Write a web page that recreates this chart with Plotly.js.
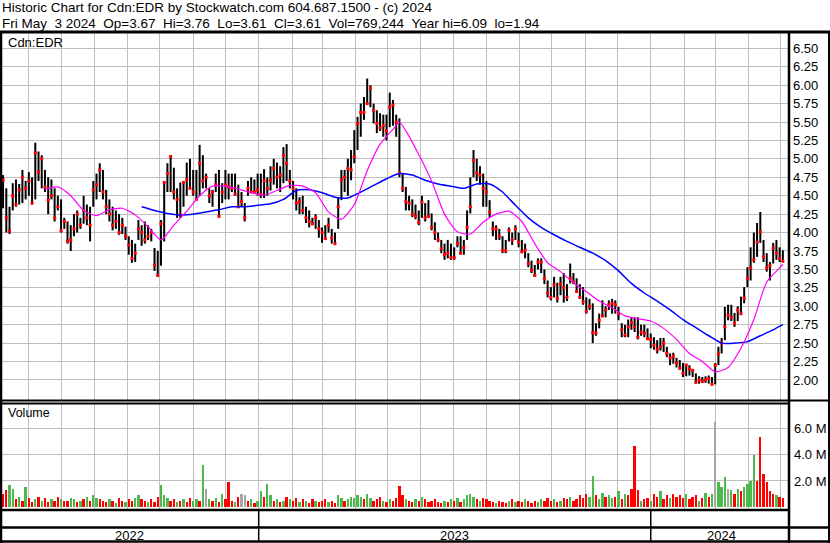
<!DOCTYPE html>
<html><head><meta charset="utf-8">
<script src="https://cdn.plot.ly/plotly-3.0.1.min.js"></script>
<style>html,body{margin:0;padding:0;background:#fff}#c{width:830px;height:543px}</style>
</head><body><div id="c"></div>
<script>
// ---- data ----
const startDate = '2022-05-08';   // first bar
const stepDays = 3;               // bar spacing in calendar days
const high = [
4.78,4.6,4.35,4.67,4.72,4.66,4.85,4.7,4.82,4.75,
5.22,5.1,5.05,4.85,4.75,4.72,4.6,4.5,4.45,4.2,
4.15,4.1,4.25,4.3,4.2,4.5,4.38,4.35,4.7,4.8,
4.94,4.85,4.58,4.45,4.35,4.3,4.25,4.2,4.08,3.95,
3.9,3.85,4.17,4.1,4.15,4.1,4.05,3.79,3.75,4.17,
4.7,4.94,5.05,4.88,4.6,4.68,4.7,4.95,5.0,4.85,
4.85,5.19,5.05,4.8,4.6,4.58,4.8,4.85,4.67,4.85,
4.8,4.8,4.8,4.65,4.55,4.4,4.7,4.75,4.72,4.8,
4.8,4.86,4.75,4.9,5.0,4.95,4.9,5.16,5.2,4.85,
4.7,4.6,4.48,4.5,4.35,4.3,4.2,4.25,4.17,4.07,
4.1,4.2,4.05,4.0,4.48,4.85,4.85,5.0,5.12,5.39,
5.57,5.75,5.84,6.09,6.0,5.75,5.66,5.62,5.6,5.6,
5.9,5.8,5.6,5.55,4.8,4.62,4.5,4.45,4.38,4.3,
4.5,4.4,4.44,4.26,4.14,4.0,3.9,3.85,3.9,3.85,
3.8,3.95,3.95,3.9,4.3,4.75,5.12,5.0,4.9,4.8,
4.7,4.44,4.15,4.1,4.05,3.95,3.9,4.07,4.0,4.1,
4.0,3.9,3.85,3.72,3.62,3.56,3.65,3.65,3.5,3.35,
3.26,3.4,3.32,3.4,3.45,3.3,3.58,3.45,3.38,3.3,
3.26,3.12,3.1,3.04,2.77,2.9,3.08,3.0,3.08,3.1,
3.08,2.99,2.77,2.75,2.82,2.85,2.85,2.85,2.75,2.75,
2.7,2.63,2.58,2.54,2.57,2.57,2.45,2.36,2.37,2.3,
2.27,2.23,2.22,2.2,2.15,2.09,2.05,2.04,2.05,2.06,
2.04,2.23,2.45,2.57,2.99,3.02,3.02,2.91,3.0,3.13,
3.26,3.53,3.8,4.0,4.13,4.28,3.9,3.72,3.6,3.86,
3.9,3.8,3.76];
const low = [
4.33,4.0,3.98,4.3,4.35,4.38,4.4,4.45,4.5,4.38,
4.45,4.7,4.6,4.55,4.25,4.45,4.15,4.3,4.0,4.05,
3.85,3.75,3.95,4.0,4.05,4.12,4.1,3.88,4.35,4.45,
4.55,4.45,4.25,4.15,4.03,4.05,3.97,3.98,3.9,3.7,
3.59,3.6,3.9,3.82,3.85,3.9,3.88,3.48,3.4,3.55,
3.88,4.55,4.55,4.45,4.2,4.2,4.35,4.5,4.62,4.5,
4.45,4.5,4.6,4.6,4.4,4.35,4.55,4.2,4.4,4.45,
4.45,4.55,4.5,4.35,4.35,4.15,4.5,4.55,4.55,4.5,
4.47,4.47,4.5,4.57,4.65,4.6,4.55,4.67,4.7,4.6,
4.45,4.3,4.25,4.25,4.13,4.07,4.1,4.05,3.93,3.86,
3.9,4.0,3.85,3.83,4.05,4.44,4.55,4.5,4.71,4.94,
5.12,5.3,5.53,5.75,5.7,5.48,5.35,5.38,5.3,5.25,
5.43,5.45,5.3,4.75,4.55,4.3,4.3,4.21,4.18,4.1,
4.2,4.15,4.2,4.03,3.9,3.87,3.72,3.63,3.65,3.63,
3.63,3.8,3.7,3.7,3.9,4.26,4.75,4.7,4.65,4.35,
4.35,4.21,3.95,3.9,3.9,3.72,3.72,3.88,3.83,3.9,
3.8,3.72,3.65,3.53,3.45,3.4,3.5,3.45,3.3,3.12,
3.08,3.12,3.05,3.15,3.05,3.07,3.31,3.3,3.2,3.1,
3.02,2.9,2.95,2.5,2.6,2.7,2.85,2.85,2.95,2.9,
2.9,2.81,2.58,2.58,2.58,2.68,2.65,2.55,2.6,2.58,
2.54,2.43,2.41,2.36,2.4,2.38,2.31,2.2,2.22,2.17,
2.14,2.04,2.05,2.06,2.04,1.95,1.95,1.96,1.96,1.95,
1.94,1.94,2.2,2.36,2.54,2.81,2.8,2.72,2.8,2.88,
3.04,3.26,3.35,3.59,3.67,3.86,3.6,3.47,3.35,3.58,
3.63,3.6,3.61];
const close = [
4.71,4.2,4.02,4.5,4.38,4.58,4.75,4.6,4.7,4.4,
5.08,4.82,5.0,4.62,4.44,4.5,4.2,4.35,4.03,4.15,
3.88,3.9,4.05,4.25,4.1,4.3,4.2,4.1,4.58,4.65,
4.85,4.55,4.35,4.25,4.1,4.15,4.0,4.1,3.95,3.83,
3.65,3.72,4.05,4.0,3.9,3.95,4.0,3.56,3.42,4.12,
4.68,4.8,5.03,4.55,4.45,4.24,4.68,4.72,4.6,4.55,
4.45,4.94,4.7,4.75,4.5,4.55,4.65,4.22,4.55,4.65,
4.62,4.6,4.52,4.35,4.42,4.2,4.6,4.55,4.55,4.58,
4.52,4.7,4.6,4.71,4.87,4.75,4.78,5.05,4.94,4.7,
4.6,4.4,4.42,4.3,4.2,4.15,4.12,4.2,4.05,4.0,
3.92,4.1,3.93,3.85,4.35,4.71,4.75,4.87,4.85,5.03,
5.48,5.63,5.63,5.75,5.96,5.66,5.48,5.42,5.45,5.38,
5.7,5.73,5.5,4.81,4.6,4.42,4.4,4.25,4.22,4.14,
4.41,4.2,4.22,4.07,4.0,3.9,3.78,3.7,3.72,3.66,
3.66,3.85,3.72,3.8,4.07,4.35,4.98,4.81,4.78,4.6,
4.55,4.28,4.05,4.05,3.95,3.76,3.75,4.03,3.9,4.05,
3.87,3.74,3.76,3.58,3.49,3.42,3.6,3.6,3.38,3.18,
3.12,3.29,3.11,3.3,3.25,3.12,3.38,3.33,3.2,3.12,
3.06,2.93,3.0,2.64,2.64,2.81,2.87,2.95,3.02,3.04,
3.02,2.9,2.68,2.61,2.72,2.78,2.72,2.58,2.65,2.63,
2.56,2.55,2.47,2.41,2.45,2.5,2.36,2.3,2.32,2.23,
2.16,2.09,2.2,2.15,2.13,1.97,2.0,1.98,2.0,2.02,
1.94,2.2,2.35,2.5,2.72,2.88,2.85,2.77,2.95,2.9,
3.11,3.38,3.52,3.63,3.87,4.01,3.67,3.52,3.55,3.79,
3.72,3.65,3.61];
// volume in millions of shares
const volume = [
1.0,1.3,1.7,1.4,0.6,0.8,0.5,1.5,0.7,0.4,
0.6,0.8,0.5,0.7,0.4,0.6,0.5,0.8,0.6,0.5,
0.5,0.7,0.6,0.4,0.5,0.6,0.8,0.5,0.9,0.7,
0.6,0.5,0.4,0.6,0.5,0.3,0.7,0.5,0.4,0.6,
0.5,0.7,0.9,0.6,0.5,0.4,0.6,0.4,0.8,1.7,
0.9,0.7,0.5,0.6,0.4,0.5,0.6,0.4,0.7,0.5,
0.6,0.5,3.2,1.4,0.6,0.5,0.7,0.4,1.0,0.6,
1.9,0.5,0.4,0.8,1.0,0.9,0.5,0.6,0.3,0.5,
1.2,0.8,1.8,0.9,0.5,0.6,0.4,0.5,0.8,0.6,
0.5,0.7,0.4,0.6,0.5,0.3,0.6,0.5,0.4,0.5,
0.6,0.4,0.5,0.3,0.9,0.7,0.5,0.6,0.8,0.7,
0.9,0.8,0.6,1.0,0.7,0.5,0.6,0.8,0.5,0.4,
0.6,0.5,0.7,1.6,0.9,0.6,0.5,0.4,0.6,0.5,
0.8,0.6,0.4,0.5,0.6,0.4,0.3,0.5,0.4,0.6,
0.5,0.7,0.4,0.6,0.9,1.0,0.8,0.6,0.5,0.7,
0.6,0.5,0.4,0.3,0.5,0.4,0.3,0.5,0.6,0.4,
0.5,0.4,0.6,0.5,0.3,0.5,0.4,0.6,0.5,0.7,
0.5,0.6,0.4,0.5,0.7,0.6,0.8,0.5,0.6,0.9,
0.7,1.0,0.8,2.4,0.9,0.6,1.1,0.8,0.9,0.7,
0.8,1.2,0.6,1.0,0.9,1.4,4.7,1.3,0.5,0.6,
0.7,0.5,1.0,0.8,1.2,0.6,0.9,0.7,1.0,0.8,
0.9,0.7,1.0,0.6,0.8,0.9,0.5,0.7,1.1,0.8,
1.0,6.5,1.9,1.5,2.3,1.4,1.3,1.0,1.4,1.2,
1.5,1.8,2.0,4.0,2.0,5.4,2.5,1.9,1.2,1.0,
0.9,0.8,0.7];
// g = up day, r = down day, n = unchanged
const volDir = ('rrggrgrgrr'+'grgrrgrrgr'+'rggrgrgrgg'+'rrrgrgrrgr'+'rggrrgrrrg'+
  'ggrrgrgrrg'+'grgngrgrgr'+'rrgrnnrgrg'+'grggrgrgrg'+'rrgrgrrgrr'+
  'rgrrggrggg'+'ggrggrrrgr'+'grrrrgrrgr'+'grrrrrrgrg'+'rgrggggrgr'+
  'rrrgrrrgrg'+'rrgrrrggrr'+'rgrgrrgrrr'+'rrggrggrgg'+'rgrgrrrrgr'+
  'rgrrgrrgrr'+'rrgrrrgrgr'+'gngggngrgr'+'ggggrrrrrr'+'grr').split('');
// moving averages: bar index -> value
const maShortIdx = [13,17,21,25,29,33,37,41,45,49,53,57,61,65,69,73,77,81,85,89,93,97,101,105,109,113,117,121,123,125,129,133,137,141,145,149,153,157,161,165,169,173,177,181,185,189,193,197,201,205,209,213,217,221,225,229,233,237,241,242];
const maShortVal = [4.59,4.62,4.5,4.3,4.23,4.31,4.33,4.24,4.08,3.9,4.1,4.29,4.5,4.63,4.63,4.59,4.54,4.51,4.57,4.64,4.63,4.54,4.28,4.18,4.38,4.84,5.2,5.4,5.5,5.38,5.06,4.7,4.25,4.01,3.98,4.14,4.25,4.29,4.15,3.85,3.59,3.47,3.32,3.2,3.07,2.98,2.87,2.83,2.8,2.7,2.55,2.36,2.25,2.11,2.17,2.43,2.82,3.33,3.52,3.57];
const maLongIdx = [43,47,51,55,59,63,67,71,75,79,83,87,91,95,99,103,107,111,115,119,123,127,131,135,139,143,147,151,155,159,163,167,171,175,179,183,187,191,195,199,203,207,211,215,219,223,227,231,235,239,242];
const maLongVal = [4.35,4.3,4.26,4.24,4.25,4.28,4.31,4.35,4.35,4.37,4.39,4.45,4.57,4.58,4.54,4.48,4.47,4.55,4.64,4.73,4.8,4.78,4.71,4.66,4.63,4.6,4.66,4.66,4.55,4.37,4.2,4.07,3.97,3.88,3.8,3.72,3.62,3.48,3.31,3.18,3.07,2.95,2.82,2.71,2.6,2.5,2.5,2.52,2.6,2.68,2.75];
const priceTicks = [2.00,2.25,2.50,2.75,3.00,3.25,3.50,3.75,4.00,4.25,4.50,4.75,5.00,5.25,5.50,5.75,6.00,6.25,6.50];
const volTicks = [2,4,6];
const volTickText = ['2.0 M','4.0 M','6.0 M'];
const yearLabels = ['2022','2023','2024'];
const yearStarts = ['2023-01-01','2024-01-01'];
const headerLine1 = 'Historic Chart for Cdn:EDR by Stockwatch.com 604.687.1500 - (c) 2024';
const headerLine2 = 'Fri May  3 2024  Op=3.67  Hi=3.76  Lo=3.61  Cl=3.61  Vol=769,244  Year hi=6.09  lo=1.94';
const symbolLabel = 'Cdn:EDR';
const volumeLabel = 'Volume';

// ---- build ----
const DAY = 86400000;
const t0 = Date.parse(startDate + 'T00:00:00Z');
function dateAt(i){ return new Date(t0 + i*stepDays*DAY).toISOString().slice(0,19).replace('T',' '); }
const dates = close.map((_,i)=>dateAt(i));

const bx=[], by=[];
for (let i=0;i<dates.length;i++){ bx.push(dates[i],dates[i],null); by.push(low[i],high[i],null); }

const colMap = {g:'#4cb94c', r:'#ff0000', n:'#a6a6a6'};
const W=830, H=543;
const fx = p => p/W, fy = p => 1 - p/H;
const FONT = '"Liberation Sans", Arial, Helvetica, sans-serif';
const GRID = '#bfbfbf';
const nb = s => s.replace(/  /g, ' \u00a0');

const traces = [
  {type:'bar', x:dates, y:volume, xaxis:'x2', yaxis:'y2',
   marker:{color:volDir.map(d=>colMap[d]), line:{width:0}}, width:stepDays*DAY*0.72, hoverinfo:'skip'},
  {type:'scatter', mode:'lines', x:bx, y:by, xaxis:'x', yaxis:'y', connectgaps:false,
   line:{color:'#000', width:2}, hoverinfo:'skip'},
  {type:'scatter', mode:'markers', x:dates, y:close, xaxis:'x', yaxis:'y',
   marker:{symbol:'square', size:3, color:'#ff0000', line:{width:0}}, hoverinfo:'skip'},
  {type:'scatter', mode:'lines', x:maLongIdx.map(dateAt), y:maLongVal, xaxis:'x', yaxis:'y',
   line:{color:'#0000ff', width:1.5, shape:'spline', smoothing:0.6}, hoverinfo:'skip'},
  {type:'scatter', mode:'lines', x:maShortIdx.map(dateAt), y:maShortVal, xaxis:'x', yaxis:'y',
   line:{color:'#ff00ff', width:1.2, shape:'spline', smoothing:0.6}, hoverinfo:'skip'}
];

function hline(y, x0, x1, w){ return {type:'line', xref:'paper', yref:'paper', x0:fx(x0), x1:fx(x1), y0:fy(y), y1:fy(y), line:{color:'#000', width:w}}; }
function vline(x, y0, y1, w){ return {type:'line', xref:'paper', yref:'paper', x0:fx(x), x1:fx(x), y0:fy(y0), y1:fy(y1), line:{color:'#000', width:w}}; }

const shapes = [
  hline(32, 0, 830, 3),
  hline(400.5, 0, 830, 2),
  hline(403.5, 0, 789, 2),
  hline(510, 0, 789, 2.5),
  hline(527.5, 0, 830, 2.5),
  hline(541.5, 0, 830, 2.5),
  vline(1, 32, 543, 2.5),
  vline(789, 32, 543, 2.5),
  vline(829, 32, 543, 2)
];
yearStarts.forEach(d => shapes.push({type:'line', xref:'x', yref:'paper', x0:d, x1:d, y0:fy(541), y1:fy(510), line:{color:'#000', width:1.5}}));

const ann = (text, x, y, xanchor, size) => ({text:text, xref:'paper', yref:'paper', x:fx(x), y:fy(y), xanchor:xanchor, yanchor:'middle', showarrow:false, borderpad:0, font:{family:FONT, size:size, color:'#000'}});
const annotations = [
  ann(nb(headerLine1), 1, 7.5, 'left', 13.5),
  ann(nb(headerLine2), 1, 23.5, 'left', 13.5),
  ann(symbolLabel, 7, 42, 'left', 13),
  ann(volumeLabel, 7, 413, 'left', 12.5),
  ann(yearLabels[0], 129, 535, 'center', 13),
  ann(yearLabels[1], 454, 535, 'center', 13),
  ann(yearLabels[2], 721, 535, 'center', 13)
];

const xCommon = {type:'date', domain:[fx(2), fx(788)], range:['2022-05-07','2024-05-07 19:00'],
  tick0:'2022-01-01', dtick:'M1', showgrid:true, gridcolor:GRID, gridwidth:1,
  showticklabels:false, ticks:'', zeroline:false, showline:false, fixedrange:true};

const layout = {
  width:W, height:H, margin:{l:0,r:0,t:0,b:0,pad:0},
  paper_bgcolor:'#fff', plot_bgcolor:'#fff', showlegend:false, bargap:0,
  font:{family:FONT, size:13, color:'#000'},
  xaxis:Object.assign({}, xCommon, {anchor:'y'}),
  xaxis2:Object.assign({}, xCommon, {anchor:'y2', matches:'x'}),
  yaxis:{domain:[fy(400), fy(33)], range:[1.728, 6.708], side:'right', anchor:'x',
    tickvals:priceTicks, ticktext:priceTicks.map(v=>v.toFixed(2)), ticks:'', ticklabelstandoff:4,
    showgrid:true, gridcolor:GRID, gridwidth:1, zeroline:false, showline:false, fixedrange:true,
    tickfont:{family:FONT, size:13, color:'#000'}},
  yaxis2:{domain:[fy(509), fy(404)], range:[-0.152, 7.91], side:'right', anchor:'x2',
    tickvals:volTicks, ticktext:volTickText, ticks:'', ticklabelstandoff:5,
    showgrid:true, gridcolor:GRID, gridwidth:1, zeroline:false, showline:false, fixedrange:true,
    tickfont:{family:FONT, size:13, color:'#000'}},
  shapes:shapes, annotations:annotations
};

Plotly.newPlot('c', traces, layout, {staticPlot:true, displayModeBar:false});
</script></body></html>
